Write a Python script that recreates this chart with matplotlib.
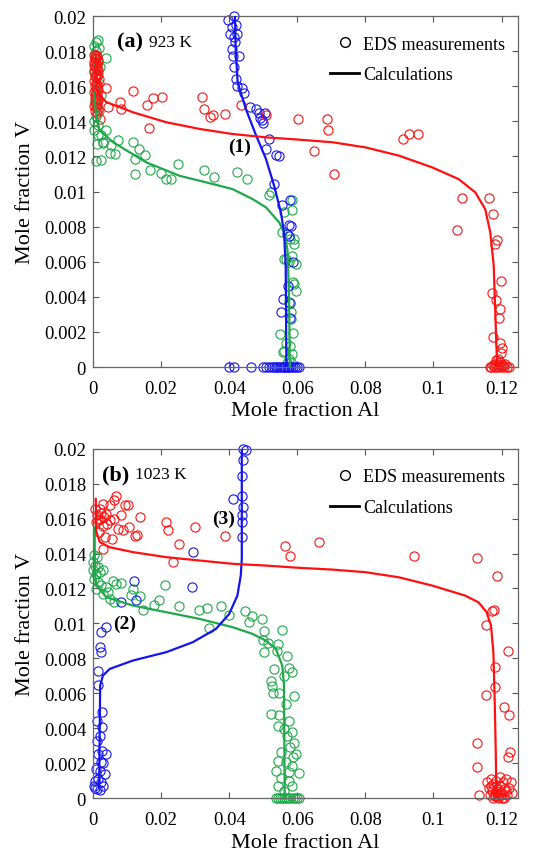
import matplotlib
matplotlib.use('Agg')
import matplotlib.pyplot as plt
from matplotlib.lines import Line2D
from matplotlib.ticker import FormatStrFormatter, MultipleLocator

plt.rcParams['font.family'] = ['Liberation Serif', 'DejaVu Serif']

RED = '#ff1010'
GREEN = '#1fa84a'
BLUE = '#1414f0'

# ---------------- 923 K : calculated profiles ----------------
calc_a_red_al = [0.0008, 0.0009, 0.0012, 0.0020, 0.0039, 0.0117, 0.0215, 0.0313, 0.0410, 0.0508,
                 0.0605, 0.0703, 0.0800, 0.0898, 0.0996, 0.1074, 0.1123, 0.1152, 0.1167, 0.1177,
                 0.1182, 0.1187]
calc_a_red_v = [0.0178, 0.0168, 0.0158, 0.01548, 0.0151, 0.01452, 0.01395, 0.01357, 0.01328, 0.01309,
                0.01296, 0.01281, 0.01252, 0.01205, 0.01138, 0.01071, 0.00995, 0.0090, 0.00767, 0.00577,
                0.00291, 0.0]

calc_a_green_al = [0.0003, 0.0008, 0.0012, 0.0020, 0.0059, 0.0156, 0.0254, 0.0352, 0.0410, 0.0469,
                   0.0508, 0.0547, 0.0561, 0.0571, 0.0576, 0.0578]
calc_a_green_v = [0.0156, 0.0146, 0.0140, 0.01348, 0.01281, 0.01167, 0.0109, 0.01043, 0.01014, 0.00957,
                  0.0091, 0.00824, 0.00767, 0.00672, 0.00386, 0.0]

calc_a_blue_al = [0.0417, 0.0419, 0.0425, 0.0449, 0.0479, 0.0508, 0.0532, 0.0552, 0.0561, 0.0566,
                  0.0568]
calc_a_blue_v = [0.0200, 0.0181, 0.0162, 0.0147, 0.0132, 0.01186, 0.01033, 0.00881, 0.00767, 0.00577,
                 0.0]

# ---------------- 923 K : EDS measurements ----------------
eds_a_red_al = [0.0003, 0.0008, 0.0012, 0.0005, 0.0010, 0.0015, 0.0004, 0.0009, 0.0013, 0.0006,
                0.0011, 0.0016, 0.0003, 0.0008, 0.0014, 0.0005, 0.0010, 0.0017, 0.0004, 0.0009,
                0.0012, 0.0006, 0.0011, 0.0015, 0.0003, 0.0008, 0.0013, 0.0005, 0.0010, 0.0016,
                0.0007, 0.0012, 0.0004, 0.0009, 0.0014, 0.0006, 0.0011, 0.0003, 0.0020, 0.0015,
                0.0037, 0.0044, 0.0080, 0.0083, 0.0117, 0.0158, 0.0163, 0.0176, 0.0202, 0.0320,
                0.0326, 0.0343, 0.0351, 0.0388, 0.0436, 0.0507, 0.0602, 0.0648, 0.0687, 0.0690,
                0.0709, 0.0911, 0.0929, 0.0956, 0.1069, 0.1083, 0.1162, 0.1176, 0.1180, 0.1187,
                0.1199, 0.1172, 0.1183, 0.1196, 0.1193, 0.1174, 0.1195, 0.1200, 0.1197, 0.1190,
                0.1166, 0.1170, 0.1174, 0.1178, 0.1181, 0.1185, 0.1188, 0.1191, 0.1194, 0.1198,
                0.1202, 0.1206, 0.1210, 0.1215, 0.1221, 0.1183, 0.1192, 0.1204]
eds_a_red_v = [0.0178, 0.0178, 0.0177, 0.0176, 0.0176, 0.0175, 0.0174, 0.0173, 0.0172, 0.0171,
               0.0170, 0.0169, 0.0168, 0.0167, 0.0167, 0.0166, 0.0165, 0.0164, 0.0163, 0.0162,
               0.0161, 0.0160, 0.0159, 0.0158, 0.0157, 0.0156, 0.0155, 0.0154, 0.0153, 0.0152,
               0.0151, 0.0150, 0.0149, 0.0148, 0.0147, 0.0146, 0.01445, 0.0172, 0.01415, 0.0153,
               0.0159, 0.0148, 0.0151, 0.01469, 0.01572, 0.01495, 0.01362, 0.01533, 0.01539, 0.01539,
               0.01473, 0.01425, 0.01434, 0.0144, 0.01495, 0.01434, 0.01411, 0.01231, 0.01411, 0.01352,
               0.01103, 0.01301, 0.0133, 0.0133, 0.00783, 0.00962, 0.00962, 0.00872, 0.00701, 0.00726,
               0.0049, 0.00421, 0.00383, 0.0033, 0.00282, 0.00171, 0.00139, 0.0011, 0.00082, 0.00048,
               0.0, 0.0, 0.0001, 0.0, 0.0002, 0.0, 0.0001, 0.0, 0.0003, 0.0,
               0.0001, 0.0, 0.0002, 0.0, 0.0, 0.0004, 0.0002, 0.0001]

eds_a_green_al = [0.0014, 0.0008, 0.0004, 0.0018, 0.0010, 0.0038, 0.0006, 0.0015, 0.0020, 0.0003,
                  0.0012, 0.0017, 0.0007, 0.0022, 0.0005, 0.0013, 0.0019, 0.0009, 0.0003, 0.0016,
                  0.0010, 0.0003, 0.0015, 0.0012, 0.0029, 0.0039, 0.0049, 0.0054, 0.0066, 0.0073,
                  0.0117, 0.0122, 0.0124, 0.0135, 0.0153, 0.0166, 0.0199, 0.0215, 0.0229, 0.0249,
                  0.0325, 0.0356, 0.0424, 0.0451, 0.0517, 0.0522, 0.0561, 0.0585, 0.0585, 0.0554,
                  0.0580, 0.0590, 0.0566, 0.0576, 0.0597, 0.0585, 0.0590, 0.0595, 0.0576, 0.0583,
                  0.0583, 0.0548, 0.0587, 0.0566, 0.0580, 0.0561, 0.0585, 0.0576, 0.0570, 0.0582,
                  0.0557, 0.0591, 0.0562, 0.0587, 0.0022, 0.0023, 0.0028]
eds_a_green_v = [0.01865, 0.0185, 0.0183, 0.0182, 0.0180, 0.0176, 0.0178, 0.0174, 0.0171, 0.0169,
                 0.0166, 0.0162, 0.0158, 0.0155, 0.0152, 0.0149, 0.0146, 0.0143, 0.0140, 0.0138,
                 0.01172, 0.01349, 0.0132, 0.01273, 0.01282, 0.01349, 0.01221, 0.01263, 0.01213, 0.01292,
                 0.01282, 0.01187, 0.01101, 0.01244, 0.01206, 0.01124, 0.01107, 0.01072, 0.01072, 0.01156,
                 0.01124, 0.01082, 0.01111, 0.01072, 0.00981, 0.00996, 0.00882, 0.00952, 0.00897, 0.00768,
                 0.0073, 0.00701, 0.00615, 0.00596, 0.00587, 0.00634, 0.00472, 0.00434, 0.00368, 0.00311,
                 0.00272, 0.00187, 0.00196, 0.00139, 0.0012, 0.00091, 0.00072, 0.00044, 0.00021, 0.00029,
                 0.00086, 0.0073, 0.00615, 0.00482, 0.01322, 0.01179, 0.01274]

eds_a_blue_al = [0.0414, 0.0397, 0.0409, 0.0421, 0.0403, 0.0414, 0.0423, 0.0416, 0.0409, 0.0412,
                 0.0428, 0.0414, 0.0421, 0.0423, 0.0437, 0.0444, 0.0462, 0.0480, 0.0487, 0.0496,
                 0.0500, 0.0490, 0.0505, 0.0517, 0.0508, 0.0537, 0.0546, 0.0532, 0.0556, 0.0580,
                 0.0583, 0.0576, 0.0577, 0.0569, 0.0588, 0.0572, 0.0559, 0.0551, 0.0578, 0.0580,
                 0.0400, 0.0415, 0.0465, 0.0498, 0.0508, 0.0518, 0.0525, 0.0532, 0.0538, 0.0545,
                 0.0551, 0.0557, 0.0563, 0.0569, 0.0575, 0.0581, 0.0587, 0.0593, 0.0599, 0.0605,
                 0.0541, 0.0560, 0.0572]
eds_a_blue_v = [0.0200, 0.01975, 0.0194, 0.0195, 0.0190, 0.0188, 0.0190, 0.0185, 0.0181, 0.0177,
                0.0177, 0.0171, 0.0164, 0.0160, 0.0159, 0.0156, 0.0148, 0.0147, 0.01445, 0.0141,
                0.0139, 0.0142, 0.01445, 0.0130, 0.01244, 0.0121, 0.0120, 0.01044, 0.00926, 0.0095,
                0.00802, 0.00749, 0.0081, 0.00758, 0.00596, 0.00463, 0.0039, 0.00314, 0.00364, 0.00282,
                0.0, 0.0, 0.0, 0.0, 0.0, 0.0, 0.0, 0.0, 0.0, 0.0,
                0.0, 0.0, 0.0, 0.0, 0.0, 0.0, 0.0, 0.0, 0.0, 0.0,
                0.0, 0.0, 0.0]

# ---------------- 1023 K : calculated profiles ----------------
calc_b_red_al = [0.0008, 0.0009, 0.0009, 0.0020, 0.0049, 0.0117, 0.0215, 0.0312, 0.0410, 0.0507,
                 0.0605, 0.0702, 0.0800, 0.0898, 0.0995, 0.1093, 0.1132, 0.1156, 0.1169, 0.1176,
                 0.1180, 0.1183, 0.1185]
calc_b_red_v = [0.01713, 0.0160, 0.0153, 0.01465, 0.01436, 0.01408, 0.01379, 0.0136, 0.01341, 0.01331,
                0.01318, 0.01308, 0.01293, 0.01264, 0.01217, 0.01159, 0.01121, 0.01064, 0.00987, 0.00835,
                0.00548, 0.00262, 0.0]

calc_b_green_al = [0.0005, 0.0005, 0.0006, 0.0010, 0.0039, 0.0117, 0.0215, 0.0312, 0.0410, 0.0468,
                   0.0507, 0.0537, 0.0556, 0.0561, 0.0563]
calc_b_green_v = [0.0155, 0.0140, 0.0128, 0.01217, 0.0115, 0.01102, 0.01064, 0.01026, 0.00978, 0.0094,
                  0.00902, 0.00854, 0.00758, 0.00644, 0.0]

calc_b_blue_al = [0.0437, 0.0437, 0.0434, 0.0424, 0.0400, 0.0361, 0.0293, 0.0215, 0.0117, 0.0049,
                  0.0029, 0.0021, 0.0020, 0.0019, 0.0018]
calc_b_blue_v = [0.0200, 0.0137, 0.01274, 0.01159, 0.01054, 0.00968, 0.00892, 0.00835, 0.00787, 0.00739,
                 0.00701, 0.00644, 0.00453, 0.00262, 0.0006]

# ---------------- 1023 K : EDS measurements ----------------
eds_b_red_al = [0.0068, 0.0063, 0.0049, 0.0029, 0.0093, 0.0102, 0.0083, 0.0039, 0.0020, 0.0049,
                0.0063, 0.0010, 0.0029, 0.0073, 0.0088, 0.0107, 0.0137, 0.0122, 0.0130, 0.0055,
                0.0034, 0.0029, 0.0017, 0.0005, 0.0020, 0.0012, 0.0024, 0.0040, 0.0015, 0.0033,
                0.0213, 0.0220, 0.0252, 0.0234, 0.0300, 0.0387, 0.0564, 0.0580, 0.0663, 0.0942,
                0.1128, 0.1186, 0.1172, 0.1178, 0.1154, 0.1218, 0.1180, 0.1180, 0.1154, 0.1206,
                0.1221, 0.1128, 0.1128, 0.1226, 0.1219, 0.1133,
                0.1158, 0.1163, 0.1168, 0.1172, 0.1176, 0.1180, 0.1184, 0.1187, 0.1191, 0.1195,
                0.1199, 0.1203, 0.1207, 0.1212, 0.1217, 0.1222, 0.1228, 0.1232, 0.1165, 0.1175,
                0.1183, 0.1190, 0.1198, 0.1206, 0.1214, 0.1170, 0.1186, 0.1200, 0.1181, 0.1195]
eds_b_red_v = [0.01729, 0.01704, 0.01675, 0.01685, 0.01679, 0.01675, 0.01618, 0.01627, 0.01599, 0.01589,
               0.01599, 0.0158, 0.0156, 0.01541, 0.01536, 0.01551, 0.01608, 0.01503, 0.01507, 0.01484,
               0.01494, 0.01427, 0.01522, 0.01656, 0.01656, 0.0162, 0.0163, 0.0157, 0.0159, 0.0161,
               0.0158, 0.01532, 0.01452, 0.0135, 0.01551, 0.01503, 0.01442, 0.01385, 0.01465, 0.01383,
               0.01373, 0.01274, 0.0107, 0.01077, 0.00991, 0.00844, 0.00749, 0.00638, 0.00592, 0.0052,
               0.00476, 0.00313, 0.0018, 0.00262, 0.00233, 0.00017,
               0.0009, 0.0006, 0.0011, 0.0004, 0.0008, 0.0002, 0.0010, 0.0005, 0.0001, 0.0007,
               0.0003, 0.0009, 0.0005, 0.0011, 0.0002, 0.0006, 0.0009, 0.0003, 0.0002, 0.0,
               0.0004, 0.0, 0.0002, 0.0, 0.0004, 0.0007, 0.0003, 0.0, 0.0001, 0.0012]

eds_b_green_al = [0.0003, 0.0012, 0.0000, 0.0005, 0.0015, 0.0000, 0.0010, 0.0020, 0.0003, 0.0015,
                  0.0029, 0.0024, 0.0010, 0.0039, 0.0044, 0.0029, 0.0059, 0.0068, 0.0049, 0.0063,
                  0.0083, 0.0117, 0.0112, 0.0137, 0.0148, 0.0180, 0.0195, 0.0210, 0.0252, 0.0312,
                  0.0335, 0.0341, 0.0376, 0.0400, 0.0447, 0.0466, 0.0459, 0.0495, 0.0503, 0.0498,
                  0.0515, 0.0544, 0.0556, 0.0503, 0.0541, 0.0569, 0.0532, 0.0576, 0.0585, 0.0561,
                  0.0522, 0.0525, 0.0529, 0.0546, 0.0590, 0.0566, 0.0522, 0.0546, 0.0576, 0.0544,
                  0.0561, 0.0585, 0.0569, 0.0590, 0.0580, 0.0551, 0.0597, 0.0587, 0.0544, 0.0566,
                  0.0585, 0.0538, 0.0576, 0.0605, 0.0551, 0.0576, 0.0544, 0.0585, 0.0561,
                  0.0537, 0.0543, 0.0549, 0.0555, 0.0561, 0.0567, 0.0573, 0.0579, 0.0586, 0.0592,
                  0.0599, 0.0605]
eds_b_green_v = [0.01389, 0.01379, 0.0135, 0.01331, 0.01322, 0.01303, 0.01284, 0.01293, 0.01255, 0.01236,
                 0.01303, 0.01217, 0.01198, 0.01207, 0.01178, 0.01169, 0.01245, 0.01226, 0.0114, 0.01125,
                 0.01232, 0.01194, 0.01163, 0.01159, 0.01077, 0.01106, 0.01131, 0.01217, 0.01102, 0.01079,
                 0.01089, 0.00972, 0.01102, 0.0105, 0.0107, 0.01041, 0.0101, 0.01026, 0.00959, 0.00905,
                 0.00888, 0.00882, 0.00963, 0.00835, 0.0084, 0.00812, 0.00739, 0.00743, 0.00724, 0.00701,
                 0.00672, 0.00644, 0.00602, 0.006, 0.00583, 0.00539, 0.00481, 0.00478, 0.00443, 0.00411,
                 0.00395, 0.0038, 0.00357, 0.00315, 0.0029, 0.00262, 0.00252, 0.00233, 0.00214, 0.00204,
                 0.00185, 0.00157, 0.00147, 0.00141, 0.00113, 0.00099, 0.00071, 0.00067, 0.00042,
                 0.0, 0.0, 0.0, 0.0, 0.0, 0.0, 0.0, 0.0, 0.0, 0.0,
                 0.0, 0.0]

eds_b_blue_al = [0.0441, 0.0449, 0.0441, 0.0439, 0.0410, 0.0439, 0.0441, 0.0439, 0.0439, 0.0437,
                 0.0293, 0.0291, 0.0120, 0.0125, 0.0083, 0.0037, 0.0024, 0.0020, 0.0022, 0.0016,
                 0.0016, 0.0026, 0.0012, 0.0026, 0.0020, 0.0012, 0.0027, 0.0039, 0.0015, 0.0022,
                 0.0029, 0.0010, 0.0020, 0.0034, 0.0005, 0.0015, 0.0024, 0.0003, 0.0013, 0.0020,
                 0.0029, 0.0007]
eds_b_blue_v = [0.0200, 0.01995, 0.01933, 0.01843, 0.01713, 0.01727, 0.01666, 0.01618, 0.0158, 0.01494,
                0.01411, 0.01207, 0.01245, 0.01131, 0.01121, 0.00978, 0.00949, 0.00863, 0.00835, 0.00726,
                0.00649, 0.00491, 0.00443, 0.00405, 0.00357, 0.00329, 0.00271, 0.00252, 0.00252, 0.00204,
                0.00199, 0.00166, 0.00157, 0.00138, 0.00099, 0.00109, 0.0009, 0.00071, 0.00052, 0.00048,
                0.00071, 0.00057]

x_ticks = [0, 0.02, 0.04, 0.06, 0.08, 0.1, 0.12]

fig = plt.figure(figsize=(5.44, 8.54), dpi=100)
ax1 = fig.add_axes([0.171, 0.569, 0.781, 0.411])
ax2 = fig.add_axes([0.171, 0.0644, 0.781, 0.409])

# axes, tag, temperature, tag x, temperature x, xlabel pad, scatter sets, curve sets, labels
panels = [
    (ax1, '(a)', '923 K', 0.056, 0.132, 3,
     [(eds_a_green_al, eds_a_green_v, GREEN), (eds_a_blue_al, eds_a_blue_v, BLUE),
      (eds_a_red_al, eds_a_red_v, RED)],
     [(calc_a_green_al, calc_a_green_v, GREEN), (calc_a_blue_al, calc_a_blue_v, BLUE),
      (calc_a_red_al, calc_a_red_v, RED)],
     [('(1)', 0.0429, 0.0126)]),
    (ax2, '(b)', '1023 K', 0.021, 0.099, 4,
     [(eds_b_green_al, eds_b_green_v, GREEN), (eds_b_blue_al, eds_b_blue_v, BLUE),
      (eds_b_red_al, eds_b_red_v, RED)],
     [(calc_b_green_al, calc_b_green_v, GREEN), (calc_b_blue_al, calc_b_blue_v, BLUE),
      (calc_b_red_al, calc_b_red_v, RED)],
     [('(2)', 0.0093, 0.0100), ('(3)', 0.0382, 0.0160)]),
]

for ax, tag, temp, tag_x, temp_x, xpad, eds, calc, marks in panels:
    for al, v, c in eds:
        ax.plot(al, v, 'o', mfc='none', mec=c, ms=6.6, mew=0.8, clip_on=False, zorder=2)
    for al, v, c in calc:
        ax.plot(al, v, '-', color=c, lw=1.6, zorder=3)
    for txt, x, y in marks:
        ax.text(x, y, txt, fontsize=14, fontweight='bold', ha='center', va='center', zorder=4)

    ax.set_xlim(0, 0.1248)
    ax.set_ylim(0, 0.02)
    ax.set_xticks(x_ticks)
    ax.yaxis.set_major_locator(MultipleLocator(0.002))
    ax.xaxis.set_major_formatter(FormatStrFormatter('%g'))
    ax.yaxis.set_major_formatter(FormatStrFormatter('%g'))
    ax.tick_params(direction='in', top=True, right=True, length=4, width=0.8,
                   color='#555555', labelsize=13.5)
    ax.tick_params(axis='x', pad=9)
    ax.tick_params(axis='y', pad=5)
    for s in ax.spines.values():
        s.set_color('#666666')
        s.set_linewidth(0.9)
    ax.set_xlabel('Mole fraction Al', fontsize=16, labelpad=xpad)
    ax.set_ylabel('Mole fraction V', fontsize=16, labelpad=6)

    ax.text(tag_x, 0.927, tag, transform=ax.transAxes, fontsize=16, fontweight='bold',
            ha='left', va='center')
    ax.text(temp_x, 0.927, temp, transform=ax.transAxes, fontsize=12.5,
            ha='left', va='center')

    handles = [Line2D([], [], ls='none', marker='o', mfc='none', mec='black', ms=7, mew=1.0),
               Line2D([], [], color='black', lw=2)]
    ax.legend(handles, ['EDS measurements', 'Calculations'], loc='upper right',
              frameon=False, fontsize=13, handlelength=1.6, handletextpad=0.2,
              labelspacing=0.75, borderaxespad=0.2, bbox_to_anchor=(0.995, 0.975))

fig.savefig('out.png', dpi=100)
